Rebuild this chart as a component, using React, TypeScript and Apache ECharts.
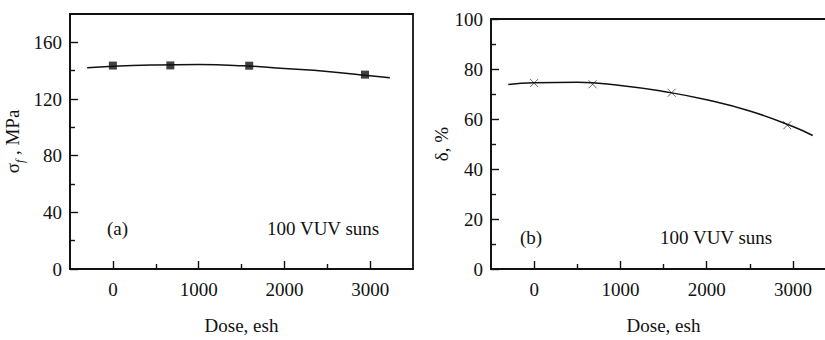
import React, { useEffect, useRef } from "react";
import * as echarts from "echarts";

// Panel (a): tensile strength
const doseA = [0, 670, 1590, 2940];
const sigmaA = [143.6, 143.7, 143.5, 137.2];
const fitDoseA = [-300, 0, 500, 1000, 1500, 2000, 2500, 3000, 3230];
const fitSigmaA = [142.0, 143.1, 144.0, 144.3, 143.5, 141.5, 139.4, 136.4, 135.0];

// Panel (b): elongation
const doseB = [0, 678, 1594, 2935];
const deltaB = [74.4, 73.9, 70.5, 57.5];
const fitDoseB = [-300, 0, 500, 1000, 1500, 2000, 2500, 3000, 3230];
const fitDeltaB = [73.8, 74.5, 74.7, 73.4, 71.0, 67.7, 63.2, 57.0, 53.4];

const xMajor = [0, 1000, 2000, 3000];
const xMinor = [500, 1500, 2500];
const yMajorA = [0, 40, 80, 120, 160];
const yMinorA = [20, 60, 100, 140];
const yMajorB = [0, 20, 40, 60, 80, 100];
const yMinorB = [10, 30, 50, 70, 90];

const FONT = "Liberation Serif";
const INK = "#111";

export default function App() {
  const ref = useRef<HTMLDivElement>(null);
  useEffect(() => {
    if (!ref.current) return;
    const chart = echarts.init(ref.current, null, { renderer: "svg" });
    const label = { color: INK, fontFamily: FONT, fontSize: 19 };
    const mkX = (grid: number, major: boolean) => ({
      type: "value",
      gridIndex: grid,
      position: "bottom",
      min: -500,
      max: 3500,
      name: major ? "Dose, esh" : "",
      nameLocation: "middle",
      nameGap: 47,
      nameTextStyle: label,
      axisLine: { show: major, onZero: false, lineStyle: { color: INK, width: 1.8 } },
      axisTick: {
        show: true,
        inside: true,
        length: major ? 8 : 5,
        lineStyle: { color: INK, width: 1.4 },
        customValues: major ? xMajor : xMinor,
      },
      axisLabel: {
        show: major,
        ...label,
        margin: 11,
        customValues: xMajor,
        formatter: (v: number) => String(v),
      },
      splitLine: { show: false },
    });
    const mkY = (grid: number, major: boolean, max: number, majors: number[], minors: number[], name: string, gap: number) => ({
      type: "value",
      gridIndex: grid,
      position: "left",
      min: 0,
      max,
      name: major ? name : "",
      nameLocation: "middle",
      nameRotate: 90,
      nameGap: gap,
      nameTextStyle: {
        ...label,
        rich: {
          n: { fontFamily: FONT, fontSize: 19, color: INK },
          sub: { fontFamily: FONT, fontSize: 12, fontStyle: "italic", color: INK, verticalAlign: "bottom", lineHeight: 28 },
        },
      },
      axisLine: { show: major, onZero: false, lineStyle: { color: INK, width: 1.8 } },
      axisTick: {
        show: true,
        inside: true,
        length: major ? 8 : 5,
        lineStyle: { color: INK, width: 1.4 },
        customValues: major ? majors : minors,
      },
      axisLabel: { show: major, ...label, margin: 8, customValues: majors, formatter: (v: number) => String(v) },
      splitLine: { show: false },
    });

    chart.setOption({
      animation: false,
      backgroundColor: "#fff",
      grid: [
        { left: 70, top: 14, width: 343, height: 258, show: true, borderColor: INK, borderWidth: 1.8, backgroundColor: "transparent" },
        { left: 491, top: 19, width: 345, height: 258, show: true, borderColor: INK, borderWidth: 1.8, backgroundColor: "transparent" },
      ],
      xAxis: [mkX(0, true), mkX(0, false), mkX(1, true), mkX(1, false)],
      yAxis: [
        mkY(0, true, 180, yMajorA, yMinorA, "{n|σ}{sub|f}{n| , MPa}", 44),
        mkY(0, false, 180, yMajorA, yMinorA, "", 44),
        mkY(1, true, 100, yMajorB, yMinorB, "{n|δ, %}", 40),
        mkY(1, false, 100, yMajorB, yMinorB, "", 40),
      ],
      series: [
        {
          type: "line",
          xAxisIndex: 0,
          yAxisIndex: 0,
          data: fitDoseA.map((d, i) => [d, fitSigmaA[i]]),
          smooth: true,
          showSymbol: false,
          lineStyle: { color: INK, width: 1.5 },
        },
        {
          type: "scatter",
          xAxisIndex: 0,
          yAxisIndex: 0,
          data: doseA.map((d, i) => [d, sigmaA[i]]),
          symbol: "rect",
          symbolSize: 8,
          itemStyle: { color: INK },
        },
        {
          type: "line",
          xAxisIndex: 2,
          yAxisIndex: 2,
          data: fitDoseB.map((d, i) => [d, fitDeltaB[i]]),
          smooth: true,
          showSymbol: false,
          lineStyle: { color: INK, width: 1.5 },
        },
        {
          type: "scatter",
          xAxisIndex: 2,
          yAxisIndex: 2,
          data: doseB.map((d, i) => [d, deltaB[i]]),
          symbol: "path://M0,0L10,10M10,0L0,10",
          symbolSize: 8,
          itemStyle: { color: "transparent", borderColor: "#444", borderWidth: 1 },
        },
      ],
      graphic: [
        { type: "text", x: 107, y: 228, style: { text: "(a)", fill: INK, font: `19px "${FONT}"`, verticalAlign: "middle" } },
        { type: "text", x: 267, y: 228, style: { text: "100 VUV suns", fill: INK, font: `19px "${FONT}"`, verticalAlign: "middle" } },
        { type: "text", x: 520, y: 237, style: { text: "(b)", fill: INK, font: `19px "${FONT}"`, verticalAlign: "middle" } },
        { type: "text", x: 660, y: 237, style: { text: "100 VUV suns", fill: INK, font: `19px "${FONT}"`, verticalAlign: "middle" } },
      ],
    });
    return () => chart.dispose();
  }, []);
  return (
    <div style={{ position: "fixed", left: 0, top: 0, width: 825, height: 340, overflow: "hidden", background: "#fff" }}>
      <div ref={ref} style={{ width: 850, height: 340 }} />
    </div>
  );
}
